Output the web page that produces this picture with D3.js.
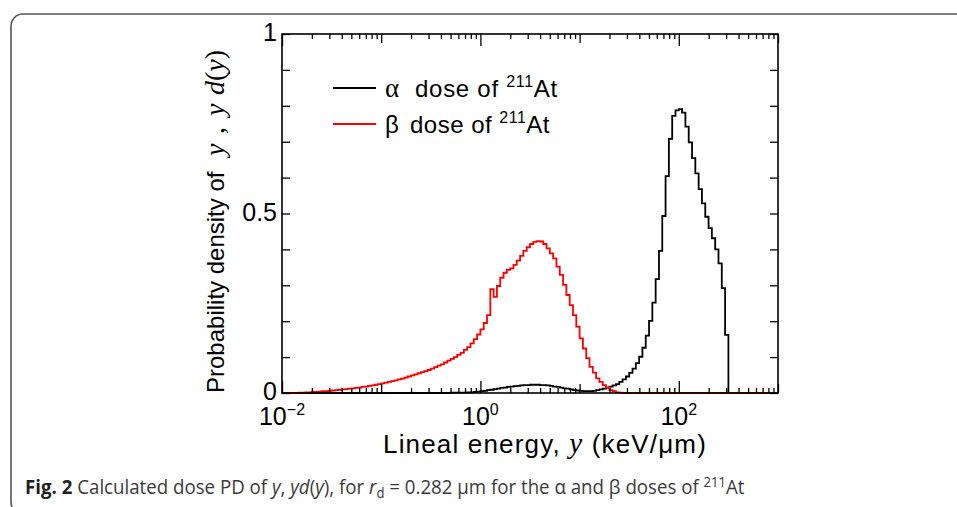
<!DOCTYPE html>
<html><head><meta charset="utf-8">
<script src="https://cdn.jsdelivr.net/npm/d3@7/dist/d3.min.js"></script>
<style>body{margin:0;background:#fff}svg{display:block}</style>
</head><body>
<svg id="c" width="957" height="507"></svg>
<script>
// ---- data (histogram bins: 30 per decade from 1e-2 to 1e3) ----
const binsPerDecade = 30;
const xExpRange = [-2, 3];
const alphaValues = [
 0,0,0,0,0,0,0,0,0,0,
 0,0,0,0,0,0,0,0,0,0,
 0,0,0,0,0,0,0,0,0,0,
 0,0,0,0,0,0,0,0,0,0,
 0,0,0,0,0,0,0,0,0,0,
 0,0.001,0.001,0.001,0.001,0.001,0.002,0.002,0.003,0.004,
 0.005,0.006,0.008,0.009,0.011,0.012,0.014,0.015,0.017,0.018,
 0.019,0.020,0.021,0.022,0.022,0.023,0.023,0.023,0.022,0.022,
 0.021,0.020,0.018,0.017,0.015,0.013,0.012,0.010,0.008,0.007,
 0.006,0.005,0.005,0.005,0.006,0.008,0.010,0.012,0.015,0.018,
 0.021,0.025,0.031,0.038,0.046,0.056,0.068,0.083,0.101,0.126,
 0.160,0.201,0.252,0.317,0.396,0.493,0.604,0.708,0.772,0.787,
 0.791,0.781,0.742,0.698,0.654,0.612,0.568,0.528,0.491,0.459,
 0.431,0.400,0.361,0.292,0.162,0,0,0,0,0,
 0,0,0,0,0,0,0,0,0,0
];
const betaValues = [
 0,0,0,0,0,0.001,0.001,0.002,0.002,0.003,
 0.003,0.004,0.005,0.005,0.006,0.007,0.008,0.009,0.010,0.011,
 0.012,0.013,0.014,0.015,0.017,0.018,0.020,0.021,0.023,0.025,
 0.027,0.029,0.031,0.033,0.035,0.038,0.040,0.043,0.046,0.049,
 0.052,0.055,0.058,0.061,0.064,0.068,0.072,0.076,0.080,0.085,
 0.090,0.095,0.100,0.106,0.112,0.120,0.128,0.138,0.150,0.163,
 0.177,0.195,0.217,0.289,0.268,0.298,0.321,0.335,0.343,0.347,
 0.357,0.369,0.382,0.396,0.406,0.415,0.421,0.423,0.422,0.415,
 0.403,0.389,0.375,0.352,0.329,0.301,0.273,0.245,0.217,0.185,
 0.152,0.124,0.097,0.073,0.057,0.041,0.031,0.022,0.015,0.008,
 0.005,0.002,0.001,0,0,0,0,0,0,0,
 0,0,0,0,0,0,0,0,0,0,
 0,0,0,0,0,0,0,0,0,0,
 0,0,0,0,0,0,0,0,0,0,
 0,0,0,0,0,0,0,0,0,0
];
const seriesNames = ["α", "β"];
const seriesColors = ["#000000", "#ff0000"];
const yTickValues = [0,0.1,0.2,0.3,0.4,0.5,0.6,0.7,0.8,0.9,1];
const yTickLabels = {0:"0", 0.5:"0.5", 1:"1"};
const xLabeledDecades = [1e-2, 1e0, 1e2];
const xLabelExponents = ["−2", "0", "2"];
const xOtherDecades = [1e-1, 1e1, 1e3];
const xMinorMultipliers = [2,3,4,5,6,7,8,9];

// ---- layout ----
const L = 282, R = 778, T = 34, B = 393;
const svg = d3.select("#c");
const sans = "'Liberation Sans', Arial, Helvetica, sans-serif";
const serif = "'Liberation Serif', 'Times New Roman', serif";

function fitWidth(sel, target) {
  const node = sel.node();
  const w = node.getComputedTextLength();
  const n = node.textContent.length;
  sel.attr("letter-spacing", ((target - w) / n).toFixed(3));
}

// outer frame
svg.append("rect").attr("x", 11).attr("y", 14).attr("width", 1000).attr("height", 500)
  .attr("rx", 12).attr("fill", "none").attr("stroke", "#555").attr("stroke-width", 1.6);

const x = d3.scaleLog().domain([Math.pow(10, xExpRange[0]), Math.pow(10, xExpRange[1])]).range([L, R]);
const y = d3.scaleLinear().domain([0, 1]).range([B, T]);

// bin edges
const nBins = (xExpRange[1] - xExpRange[0]) * binsPerDecade;
const edges = d3.range(nBins + 1).map(i => Math.pow(10, xExpRange[0] + i / binsPerDecade));

function stepPoints(vals) {
  const pts = vals.map((v, i) => [edges[i], v]);
  pts.push([edges[nBins], vals[nBins - 1]]);
  return pts;
}
const line = d3.line().x(d => x(d[0])).y(d => y(d[1])).curve(d3.curveStepAfter);

[alphaValues, betaValues].forEach((vals, k) => {
  svg.append("path").attr("d", line(stepPoints(vals)))
    .attr("fill", "none").attr("stroke", seriesColors[k]).attr("stroke-width", 1.8)
    .attr("stroke-linejoin", "miter");
});

// ticks
const minorVals = [];
[-2, -1, 0, 1, 2].forEach(e => xMinorMultipliers.forEach(m => minorVals.push(m * Math.pow(10, e))));
function xTicks(vals, len) {
  const gb = svg.append("g").attr("transform", `translate(0,${B})`)
    .call(d3.axisBottom(x).tickValues(vals).tickSize(-len).tickFormat(""));
  const gt = svg.append("g").attr("transform", `translate(0,${T})`)
    .call(d3.axisTop(x).tickValues(vals).tickSize(-len).tickFormat(""));
  [gb, gt].forEach(g => { g.select(".domain").remove(); g.selectAll("line").attr("stroke", "#000").attr("stroke-width", 1.3); });
}
xTicks(xLabeledDecades, 12);
xTicks(xOtherDecades, 9);
xTicks(minorVals, 5);

const gl = svg.append("g").attr("transform", `translate(${L},0)`)
  .call(d3.axisLeft(y).tickValues(yTickValues).tickSize(-8).tickPadding(5)
    .tickFormat(d => yTickLabels[d] !== undefined ? yTickLabels[d] : ""));
gl.select(".domain").remove();
gl.selectAll("line").attr("stroke", "#000").attr("stroke-width", 1.3);
gl.selectAll("text").attr("font-family", sans).attr("font-size", 25).attr("fill", "#000").attr("dy", "0.26em");

const gr = svg.append("g").attr("transform", `translate(${R},0)`)
  .call(d3.axisRight(y).tickValues(yTickValues).tickSize(-8).tickFormat(""));
gr.select(".domain").remove();
gr.selectAll("line").attr("stroke", "#000").attr("stroke-width", 1.3);

// plot box
svg.append("rect").attr("x", L).attr("y", T).attr("width", R - L).attr("height", B - T)
  .attr("fill", "none").attr("stroke", "#000").attr("stroke-width", 1.6);

// x tick labels
xLabeledDecades.forEach((v, i) => {
  const t = svg.append("text").attr("x", x(v)).attr("y", 425).attr("text-anchor", "middle")
    .attr("font-family", sans).attr("font-size", 25).attr("fill", "#000");
  t.append("tspan").text("10");
  t.append("tspan").attr("dy", -10).attr("font-size", 16).text(xLabelExponents[i]);
});

// axis titles
const xt = svg.append("text").attr("x", 383).attr("y", 453)
  .attr("font-family", sans).attr("font-size", 26).attr("fill", "#000");
xt.append("tspan").text("Lineal energy, ");
xt.append("tspan").attr("font-family", serif).attr("font-style", "italic").attr("font-size", 29).text("y");
xt.append("tspan").text(" (keV/μm)");
fitWidth(xt, 324);

const yt = svg.append("text").attr("transform", "translate(224,0) rotate(-90)")
  .attr("font-family", sans).attr("font-size", 24).attr("fill", "#000");
yt.append("tspan").attr("x", -393).text("Probability density of ");
yt.append("tspan").attr("x", -156).attr("font-family", serif).attr("font-style", "italic").attr("font-size", 28).text("y");
yt.append("tspan").attr("x", -134).attr("font-family", serif).attr("font-size", 28).text(",");
yt.append("tspan").attr("x", -116).attr("font-family", serif).attr("font-style", "italic").attr("font-size", 28).text("y");
yt.append("tspan").attr("x", -95).attr("font-family", serif).attr("font-style", "italic").attr("font-size", 28).text("d");
yt.append("tspan").attr("font-family", serif).attr("font-size", 28).text("(");
yt.append("tspan").attr("font-family", serif).attr("font-style", "italic").attr("font-size", 28).text("y");
yt.append("tspan").attr("font-family", serif).attr("font-size", 28).text(")");

// legend
const legY = [88, 124];
const legDoseX = [415, 410];
const legEnd = [558, 550];
seriesNames.forEach((nm, k) => {
  svg.append("line").attr("x1", 333).attr("x2", 376).attr("y1", legY[k]).attr("y2", legY[k])
    .attr("stroke", seriesColors[k]).attr("stroke-width", 1.8);
  const t = svg.append("text").attr("y", legY[k] + 9).attr("font-family", sans)
    .attr("font-size", 24).attr("fill", "#000");
  t.append("tspan").attr("x", 385).attr("font-family", k === 0 ? serif : sans)
    .attr("font-size", k === 0 ? 27 : 24).text(nm);
  const rest = svg.append("text").attr("x", legDoseX[k]).attr("y", legY[k] + 9)
    .attr("font-family", sans).attr("font-size", 24).attr("fill", "#000");
  rest.append("tspan").text("dose of ");
  rest.append("tspan").attr("dy", -10).attr("font-size", 16).text("211");
  rest.append("tspan").attr("dy", 10).text("At");
  fitWidth(rest, legEnd[k] - legDoseX[k]);
});

// caption
const cap = svg.append("text").attr("font-family", "'Open Sans', 'Noto Sans', sans-serif")
  .attr("font-size", 20).attr("fill", "#3a3a3a");
cap.append("tspan").attr("font-weight", "bold").attr("fill", "#231f20").text("Fig. 2");
cap.append("tspan").text(" Calculated dose PD of ");
cap.append("tspan").attr("font-style", "italic").text("y");
cap.append("tspan").text(", ");
cap.append("tspan").attr("font-style", "italic").text("yd");
cap.append("tspan").text("(");
cap.append("tspan").attr("font-style", "italic").text("y");
cap.append("tspan").text("), for ");
cap.append("tspan").attr("font-style", "italic").text("r");
cap.append("tspan").attr("dy", 4).attr("font-size", 14).text("d");
cap.append("tspan").attr("dy", -4).text(" = 0.282 μm for the α and β doses of ");
cap.append("tspan").attr("dy", -7).attr("font-size", 14).text("211");
cap.append("tspan").attr("dy", 7).text("At");
const w = cap.node().getComputedTextLength();
cap.attr("transform", `translate(25,494) scale(${720 / w},1)`);
</script>
</body></html>
